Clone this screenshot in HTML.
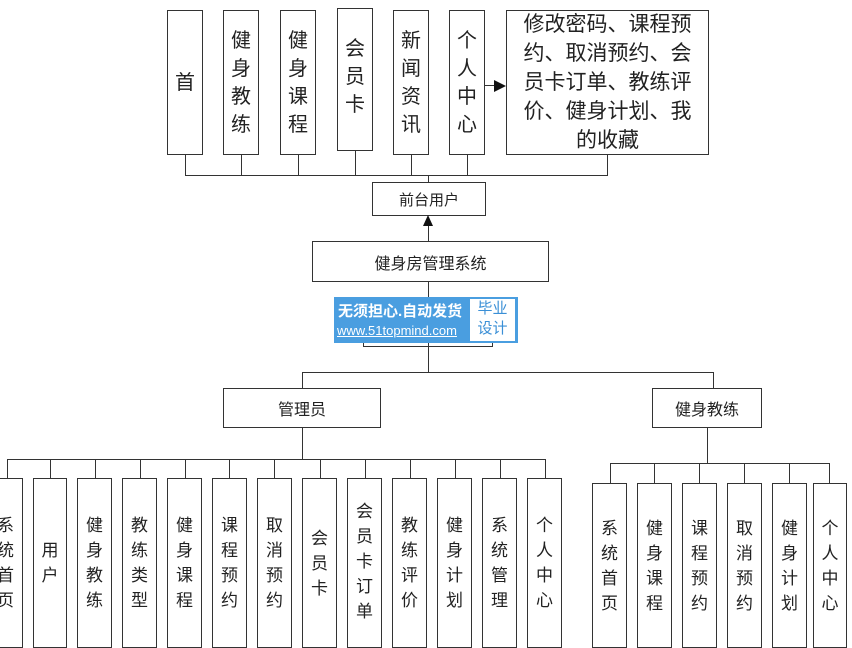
<!DOCTYPE html><html><head><meta charset="utf-8"><style>
body{margin:0;width:852px;height:641px;overflow:hidden;background:#fff;position:relative;font-family:"Liberation Sans","Noto Sans CJK SC",sans-serif;color:#222}
.b{position:absolute;border:1.3px solid #333;box-sizing:border-box;background:#fff;display:flex;align-items:center;justify-content:center;text-align:center}
.t{font-size:20px;line-height:28px}
.s{font-size:17px;line-height:25px}
.h{position:absolute;background:#333;height:1.3px}
.v{position:absolute;background:#333;width:1.3px}
</style></head><body>
<!-- top -->
<div class="b t" style="left:167px;top:10px;width:36px;height:145px">首</div>
<div class="b t" style="left:223px;top:10px;width:36px;height:145px">健<br>身<br>教<br>练</div>
<div class="b t" style="left:280px;top:10px;width:36px;height:145px">健<br>身<br>课<br>程</div>
<div class="b t" style="left:337px;top:8px;width:36px;height:143px;align-items:flex-start;padding-top:26px">会<br>员<br>卡</div>
<div class="b t" style="left:393px;top:10px;width:36px;height:145px">新<br>闻<br>资<br>讯</div>
<div class="b t" style="left:449px;top:10px;width:36px;height:145px">个<br>人<br>中<br>心</div>
<div class="b" style="left:506px;top:10px;width:203px;height:145px;padding:0 2px;font-size:21px;line-height:29px;white-space:nowrap">修改密码、课程预<br>约、取消预约、会<br>员卡订单、教练评<br>价、健身计划、我<br>的收藏</div>
<div class="h" style="left:485px;top:85px;width:12px"></div>
<div style="position:absolute;left:494px;top:80px;border-left:12px solid #111;border-top:6px solid transparent;border-bottom:6px solid transparent"></div>
<div class="v" style="left:185px;top:155px;height:20px"></div>
<div class="v" style="left:241px;top:155px;height:20px"></div>
<div class="v" style="left:298px;top:155px;height:20px"></div>
<div class="v" style="left:355px;top:151px;height:24px"></div>
<div class="v" style="left:411px;top:155px;height:20px"></div>
<div class="v" style="left:467px;top:155px;height:20px"></div>
<div class="v" style="left:607px;top:155px;height:20px"></div>
<div class="h" style="left:185px;top:175px;width:423px"></div>
<div class="v" style="left:428px;top:175px;height:7px"></div>
<div class="b" style="left:372px;top:182px;width:114px;height:34px;font-size:15px">前台用户</div>
<div class="v" style="left:428px;top:225px;height:16px"></div>
<div style="position:absolute;left:423px;top:215px;border-bottom:11px solid #111;border-left:5.5px solid transparent;border-right:5.5px solid transparent"></div>
<div class="b" style="left:312px;top:241px;width:237px;height:41px;font-size:16px">健身房管理系统</div>
<div class="v" style="left:428px;top:282px;height:90px"></div>
<div style="position:absolute;left:363px;top:336px;width:130px;height:11px;border:1.3px solid #333;border-top:none;box-sizing:border-box"></div>
<div style="position:absolute;left:334px;top:297px;width:184px;height:46px;background:#4a9ee0"></div>
<div style="position:absolute;left:338px;top:300px;font-size:15px;color:#fff;font-weight:bold">无须担心.自动发货</div>
<div style="position:absolute;left:337px;top:323px;font-size:13px;color:#fff;text-decoration:underline">www.51topmind.com</div>
<div style="position:absolute;left:470px;top:299px;width:45px;height:42px;background:#fff;color:#3a8fd6;font-size:15px;line-height:20px;text-align:center">毕业<br>设计</div>
<div class="h" style="left:302px;top:372px;width:412px"></div>
<div class="v" style="left:302px;top:372px;height:16px"></div>
<div class="v" style="left:713px;top:372px;height:16px"></div>
<div class="b" style="left:223px;top:388px;width:158px;height:40px;font-size:16px">管理员</div>
<div class="b" style="left:652px;top:388px;width:110px;height:40px;font-size:16px">健身教练</div>
<div class="v" style="left:302px;top:428px;height:31px"></div>
<div class="v" style="left:707px;top:428px;height:35px"></div>
<div class="h" style="left:7px;top:459px;width:539px"></div>
<div class="h" style="left:610px;top:463px;width:220px"></div>
<!-- admin children -->
<div class="v" style="left:7px;top:459px;height:19px"></div>
<div class="b s" style="left:-12px;top:478px;width:35px;height:170px">系<br>统<br>首<br>页</div>
<div class="v" style="left:50px;top:459px;height:19px"></div>
<div class="b s" style="left:33px;top:478px;width:34px;height:170px">用<br>户</div>
<div class="v" style="left:95px;top:459px;height:19px"></div>
<div class="b s" style="left:77px;top:478px;width:35px;height:170px">健<br>身<br>教<br>练</div>
<div class="v" style="left:140px;top:459px;height:19px"></div>
<div class="b s" style="left:122px;top:478px;width:35px;height:170px">教<br>练<br>类<br>型</div>
<div class="v" style="left:185px;top:459px;height:19px"></div>
<div class="b s" style="left:167px;top:478px;width:35px;height:170px">健<br>身<br>课<br>程</div>
<div class="v" style="left:229px;top:459px;height:19px"></div>
<div class="b s" style="left:212px;top:478px;width:35px;height:170px">课<br>程<br>预<br>约</div>
<div class="v" style="left:274px;top:459px;height:19px"></div>
<div class="b s" style="left:257px;top:478px;width:35px;height:170px">取<br>消<br>预<br>约</div>
<div class="v" style="left:320px;top:459px;height:19px"></div>
<div class="b s" style="left:302px;top:478px;width:35px;height:170px">会<br>员<br>卡</div>
<div class="v" style="left:365px;top:459px;height:19px"></div>
<div class="b s" style="left:347px;top:478px;width:35px;height:170px;align-items:flex-start;padding-top:20px">会<br>员<br>卡<br>订<br>单</div>
<div class="v" style="left:410px;top:459px;height:19px"></div>
<div class="b s" style="left:392px;top:478px;width:35px;height:170px">教<br>练<br>评<br>价</div>
<div class="v" style="left:455px;top:459px;height:19px"></div>
<div class="b s" style="left:437px;top:478px;width:35px;height:170px">健<br>身<br>计<br>划</div>
<div class="v" style="left:500px;top:459px;height:19px"></div>
<div class="b s" style="left:482px;top:478px;width:35px;height:170px">系<br>统<br>管<br>理</div>
<div class="v" style="left:545px;top:459px;height:19px"></div>
<div class="b s" style="left:527px;top:478px;width:35px;height:170px">个<br>人<br>中<br>心</div>
<!-- coach children -->
<div class="v" style="left:610px;top:463px;height:20px"></div>
<div class="b s" style="left:592px;top:483px;width:35px;height:165px">系<br>统<br>首<br>页</div>
<div class="v" style="left:654px;top:463px;height:20px"></div>
<div class="b s" style="left:637px;top:483px;width:35px;height:165px">健<br>身<br>课<br>程</div>
<div class="v" style="left:699px;top:463px;height:20px"></div>
<div class="b s" style="left:682px;top:483px;width:35px;height:165px">课<br>程<br>预<br>约</div>
<div class="v" style="left:744px;top:463px;height:20px"></div>
<div class="b s" style="left:727px;top:483px;width:35px;height:165px">取<br>消<br>预<br>约</div>
<div class="v" style="left:789px;top:463px;height:20px"></div>
<div class="b s" style="left:772px;top:483px;width:35px;height:165px">健<br>身<br>计<br>划</div>
<div class="v" style="left:829px;top:463px;height:20px"></div>
<div class="b s" style="left:813px;top:483px;width:34px;height:165px">个<br>人<br>中<br>心</div>
</body></html>
